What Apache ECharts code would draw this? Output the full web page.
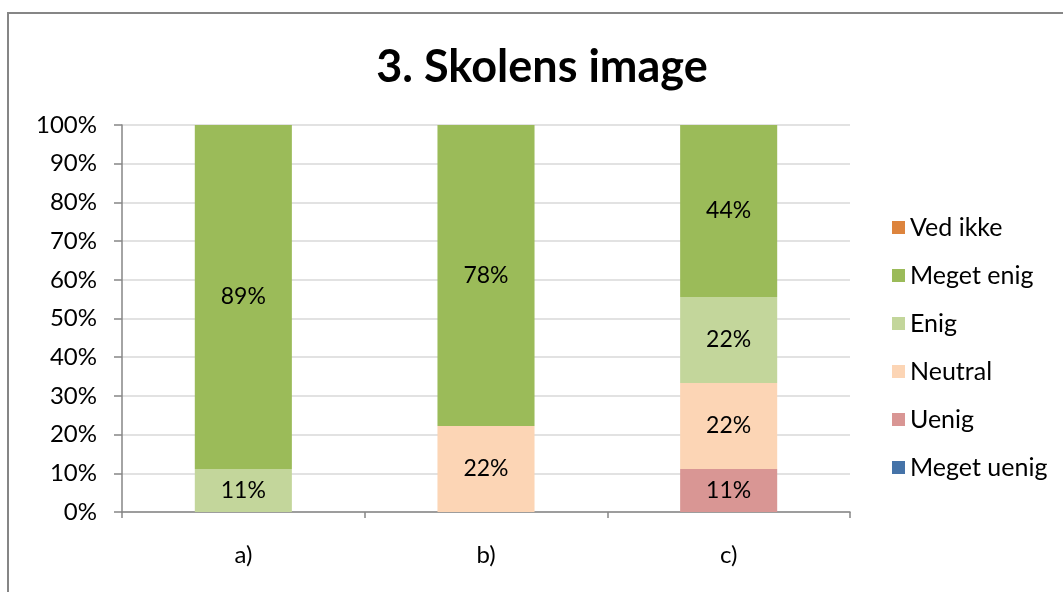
<!DOCTYPE html>
<html>
<head>
<meta charset="utf-8">
<script src="https://cdn.jsdelivr.net/npm/echarts@6/dist/echarts.min.js"></script>
<style>
html,body{margin:0;padding:0;background:#fff;}
#chart{width:1063px;height:592px;}
</style>
</head>
<body>
<div id="chart"></div>
<script>
var categories = ['a)', 'b)', 'c)'];
var seriesNames = ['Meget uenig', 'Uenig', 'Neutral', 'Enig', 'Meget enig', 'Ved ikke'];
var megetUenig = [0, 0, 0];
var uenig = [0, 0, 11.11];
var neutral = [0, 22.22, 22.22];
var enig = [11.11, 0, 22.22];
var megetEnig = [88.89, 77.78, 44.44];
var vedIkke = [0, 0, 0];
var yTicks = [0, 10, 20, 30, 40, 50, 60, 70, 80, 90, 100];

var colors = {
  'Meget uenig': '#4573A8',
  'Uenig': '#D99694',
  'Neutral': '#FCD5B5',
  'Enig': '#C3D69B',
  'Meget enig': '#9BBB59',
  'Ved ikke': '#DD843D'
};
var values = [megetUenig, uenig, neutral, enig, megetEnig, vedIkke];
var FONT = 'Lato';

var chart = echarts.init(document.getElementById('chart'), null, {renderer: 'canvas'});

var series = seriesNames.map(function (name, i) {
  return {
    name: name,
    type: 'bar',
    stack: 'total',
    barWidth: '40%',
    data: values[i],
    itemStyle: {color: colors[name]},
    label: {
      show: true,
      position: 'inside',
      color: '#000',
      fontFamily: FONT,
      fontSize: 23,
      formatter: function (p) { return p.value > 0 ? Math.round(p.value) + '%' : ''; }
    },
    emphasis: {disabled: true}
  };
});

chart.setOption({
  animation: false,
  textStyle: {fontFamily: FONT},
  graphic: [{
    type: 'rect',
    z: -10,
    shape: {x: 8, y: 13, width: 1100, height: 650},
    style: {fill: 'none', stroke: '#868686', lineWidth: 2}
  }],
  title: {
    text: '3. Skolens image',
    left: 537,
    textAlign: 'center',
    top: 40,
    textStyle: {fontFamily: FONT, fontWeight: 'bold', fontSize: 45, color: '#000'}
  },
  legend: {
    data: seriesNames.slice().reverse(),
    orient: 'vertical',
    left: 887,
    top: 210,
    itemWidth: 13,
    itemHeight: 13,
    itemGap: 23,
    icon: 'rect',
    textStyle: {fontFamily: FONT, fontSize: 25, color: '#000'},
    selectedMode: false
  },
  grid: {left: 122, right: 213, top: 125, bottom: 80, containLabel: false},
  xAxis: {
    type: 'category',
    data: categories,
    axisLine: {lineStyle: {color: '#868686', width: 1.5}},
    axisTick: {show: true, length: 6, lineStyle: {color: '#868686', width: 1.5}},
    axisLabel: {margin: 31, color: '#000', fontFamily: FONT, fontSize: 24}
  },
  yAxis: {
    type: 'value',
    min: 0,
    max: 100,
    interval: 10,
    axisLine: {show: true, lineStyle: {color: '#868686', width: 1.5}},
    axisTick: {show: true, length: 8, lineStyle: {color: '#868686', width: 1.5}},
    splitLine: {lineStyle: {color: '#D9D9D9', width: 1.5}},
    axisLabel: {
      margin: 25,
      color: '#000',
      fontFamily: FONT,
      fontSize: 24,
      customValues: yTicks,
      formatter: '{value}%'
    }
  },
  series: series
});
</script>
</body>
</html>
